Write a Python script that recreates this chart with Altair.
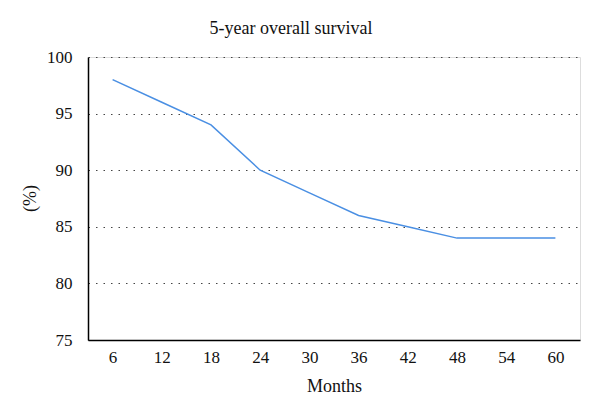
import altair as alt
import pandas as pd

months = [6, 12, 18, 24, 30, 36, 42, 48, 54, 60]
survival = [98, 96, 94, 90, 88, 86, 85, 84, 84, 84]

df = pd.DataFrame({"Months": months, "Survival": survival})

FONT = "Liberation Serif"

chart = alt.Chart(df).mark_line(color="#4a8fe3", strokeWidth=1.5).encode(
    x=alt.X("Months:O", sort=months,
            scale=alt.Scale(type="point", padding=0.5),
            axis=alt.Axis(title="Months", labelAngle=0, ticks=False, grid=False,
                          domainColor="#000", domainWidth=1.5,
                          labelFont=FONT, labelFontSize=17, labelColor="#111",
                          labelPadding=9, titleFont=FONT, titleFontSize=18,
                          titleFontWeight="normal", titleColor="#111", titlePadding=12)),
    y=alt.Y("Survival:Q", scale=alt.Scale(domain=[75, 100], nice=False, zero=False),
            axis=alt.Axis(title="(%)", values=[75, 80, 85, 90, 95, 100], ticks=False,
                          grid=True, gridDash=[1.5, 6], gridColor="#444", gridWidth=1,
                          domainColor="#000", domainWidth=1.5,
                          labelFont=FONT, labelFontSize=17, labelColor="#111",
                          labelPadding=16, titleFont=FONT, titleFontSize=18,
                          titleFontWeight="normal", titleColor="#111",
                          titleX=-58, titleY=141, titleBaseline="middle")),
).properties(
    width=492, height=283,
    title=alt.TitleParams("5-year overall survival", font=FONT, fontSize=18,
                          fontWeight="normal", color="#111", anchor="middle",
                          dx=-43, offset=10),
    autosize=alt.AutoSizeParams(type="none"),
    padding={"left": 80, "top": 49, "right": 12, "bottom": 60},
).configure_view(stroke=None).configure(background="white")

chart.save("out.html", embed_options={"renderer": "svg", "actions": False})
